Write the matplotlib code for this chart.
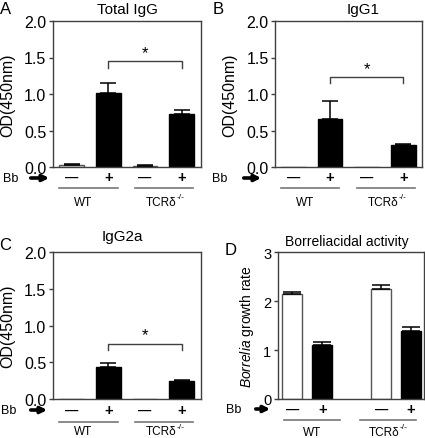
import matplotlib
matplotlib.use("Agg")
import matplotlib.pyplot as plt
from matplotlib.transforms import blended_transform_factory
from matplotlib.lines import Line2D

plt.rcParams['font.family'] = ['Liberation Sans', 'DejaVu Sans']
plt.rcParams['mathtext.fontset'] = 'custom'
plt.rcParams['mathtext.rm'] = 'Liberation Sans'
plt.rcParams['mathtext.it'] = 'Liberation Sans:italic'

# ---------------- data ----------------
groups = ['WT', 'TCRδ']
group_sup = ['', '-/-']
bb_signs = ['—', '+', '—', '+']
bar_colors = ['white', 'black', 'white', 'black']

total_igg = [0.03, 1.01, 0.02, 0.72]
total_igg_err = [0.005, 0.14, 0.004, 0.06]
igg1 = [0.0, 0.66, 0.0, 0.30]
igg1_err = [0.0, 0.24, 0.0, 0.01]
igg2a = [0.005, 0.43, 0.004, 0.25]
igg2a_err = [0.0, 0.06, 0.0, 0.01]
borr = [2.14, 1.11, 2.24, 1.39]
borr_err = [0.04, 0.06, 0.09, 0.09]

W, H = 425, 439
fig = plt.figure(figsize=(W / 100, H / 100), dpi=100)


def fx(x):
    return x / W


def fy(y):
    return 1 - y / H


def make_axes(l, t, r, b):
    return fig.add_axes([fx(l), fy(b), (r - l) / W, (b - t) / H])


def style(ax):
    for s in ax.spines.values():
        s.set_color('#404040')
        s.set_linewidth(1.0)
    ax.tick_params(axis='y', direction='out', length=3, width=1, color='#404040',
                   pad=1.5, labelsize=11.5)
    ax.tick_params(axis='x', length=0, labelbottom=False)


def draw_bars(ax, xs, vals, errs, capsize):
    for x, v, e, c in zip(xs, vals, errs, bar_colors):
        ec = '#555555' if c == 'white' else 'black'
        ax.bar(x, v, width=0.67, color=c, edgecolor=ec, linewidth=1.0, zorder=2)
        if e > 0:
            ax.errorbar(x, v, yerr=[[0], [e]], fmt='none', ecolor='black',
                        elinewidth=1.1, capsize=capsize, capthick=1.1, zorder=3)


def bracket(ax, x1, x2, y, ydrop, ystar):
    ax.plot([x1, x1, x2, x2], [y - ydrop, y, y, y - ydrop], color='#404040', lw=1.0,
            zorder=3, clip_on=False)
    ax.text((x1 + x2) / 2, ystar, '*', ha='center', va='center', fontsize=12)


def below(ax, xs, sign_y, line_y, lab_y, line_ext, lab_x, bb_x, arr_x0, arr_x1, bb_y):
    tr = blended_transform_factory(ax.transData, fig.transFigure)
    for x, s in zip(xs, bb_signs):
        ax.text(x, fy(sign_y), s, transform=tr, ha='center', va='center',
                fontsize=10.5 if s == '+' else 9.5, fontweight='bold')
    for (a, b), lx, g, sup in zip(line_ext, lab_x, groups, group_sup):
        ax.add_line(Line2D([a, b], [fy(line_y), fy(line_y)], transform=tr, color='#777777',
                           lw=1.2, clip_on=False))
        t = ax.text(lx, fy(lab_y), g, transform=tr, ha='center', va='center', fontsize=8.5)
        if sup:
            ax.annotate(sup, xy=(1.0, 0.95), xycoords=t, ha='left', va='center',
                        fontsize=6)
    fig.text(fx(bb_x), fy(bb_y), 'Bb', ha='center', va='center', fontsize=9)
    fig.add_artist(matplotlib.patches.FancyArrowPatch(
        (fx(arr_x0), fy(bb_y)), (fx(arr_x1), fy(bb_y)), transform=fig.transFigure,
        arrowstyle='-|>', mutation_scale=9, lw=2.6, color='black'))


xs4 = [0, 1, 2, 3]
line_ext_ab = [(-0.35, 1.25), (1.74, 3.32)]
lab_x_ab = [0.31, 2.44]

# ---------------- A ----------------
axA = make_axes(52.7, 22, 200.7, 168)
style(axA)
draw_bars(axA, xs4, total_igg, total_igg_err, 6)
axA.set_xlim(-0.52, 3.52)
axA.set_ylim(0, 2.0)
axA.set_yticks([0, 0.5, 1.0, 1.5, 2.0])
axA.set_yticklabels(['0.0', '0.5', '1.0', '1.5', '2.0'])
axA.set_ylabel('OD(450nm)', fontsize=11.5)
axA.yaxis.set_label_coords(-0.255, 0.5)
bracket(axA, 1, 3, 1.45, 0.09, 1.57)
below(axA, xs4, 178, 189.3, 202.7, line_ext_ab, lab_x_ab, 10.5, 28, 52, 179)
fig.text(fx(127), fy(10), 'Total IgG', ha='center', va='center', fontsize=11)
fig.text(fx(6), fy(10), 'A', ha='center', va='center', fontsize=12)

# ---------------- B ----------------
axB = make_axes(275, 22, 421.7, 168)
style(axB)
draw_bars(axB, xs4, igg1, igg1_err, 6)
axB.set_xlim(-0.5, 3.5)
axB.set_ylim(0, 2.0)
axB.set_yticks([0, 0.5, 1.0, 1.5, 2.0])
axB.set_yticklabels(['0.0', '0.5', '1.0', '1.5', '2.0'])
axB.set_ylabel('OD(450nm)', fontsize=11.5)
axB.yaxis.set_label_coords(-0.255, 0.5)
bracket(axB, 1, 3, 1.23, 0.08, 1.35)
below(axB, xs4, 178, 189.3, 202.7, line_ext_ab, lab_x_ab, 220, 241, 264, 179)
fig.text(fx(363), fy(10), 'IgG1', ha='center', va='center', fontsize=11)
fig.text(fx(218), fy(10), 'B', ha='center', va='center', fontsize=12)

# ---------------- C ----------------
axC = make_axes(52.7, 253.3, 200.7, 400)
style(axC)
draw_bars(axC, xs4, igg2a, igg2a_err, 6)
axC.set_xlim(-0.52, 3.52)
axC.set_ylim(0, 2.0)
axC.set_yticks([0, 0.5, 1.0, 1.5, 2.0])
axC.set_yticklabels(['0.0', '0.5', '1.0', '1.5', '2.0'])
axC.set_ylabel('OD(450nm)', fontsize=11.5)
axC.yaxis.set_label_coords(-0.255, 0.5)
bracket(axC, 1, 3, 0.75, 0.08, 0.88)
below(axC, xs4, 411, 422.7, 432.5, line_ext_ab, lab_x_ab, 9, 28, 50, 411)
fig.text(fx(122), fy(237), 'IgG2a', ha='center', va='center', fontsize=11)
fig.text(fx(5), fy(246), 'C', ha='center', va='center', fontsize=12)

# ---------------- D ----------------
xsD = [0, 1, 2.96, 3.96]
axD = make_axes(277.7, 253.3, 424, 400)
style(axD)
axD.tick_params(axis='y', labelsize=10.5)
draw_bars(axD, xsD, borr, borr_err, 6.5)
axD.set_xlim(-0.49, 4.39)
axD.set_ylim(0, 3)
axD.set_yticks([0, 1, 2, 3])
axD.set_ylabel(r'$\it{Borrelia}$ growth rate', fontsize=10)
axD.yaxis.set_label_coords(-0.145, 0.5)
below(axD, xsD, 410, 421, 433, [(-0.29, 1.59), (2.26, 4.12)], [0.66, 3.06],
      234, 253, 273, 410)
fig.text(fx(347), fy(241.7), 'Borreliacidal activity', ha='center', va='center', fontsize=10)
fig.text(fx(231), fy(251), 'D', ha='center', va='center', fontsize=12)

fig.savefig('out.png', dpi=100)
